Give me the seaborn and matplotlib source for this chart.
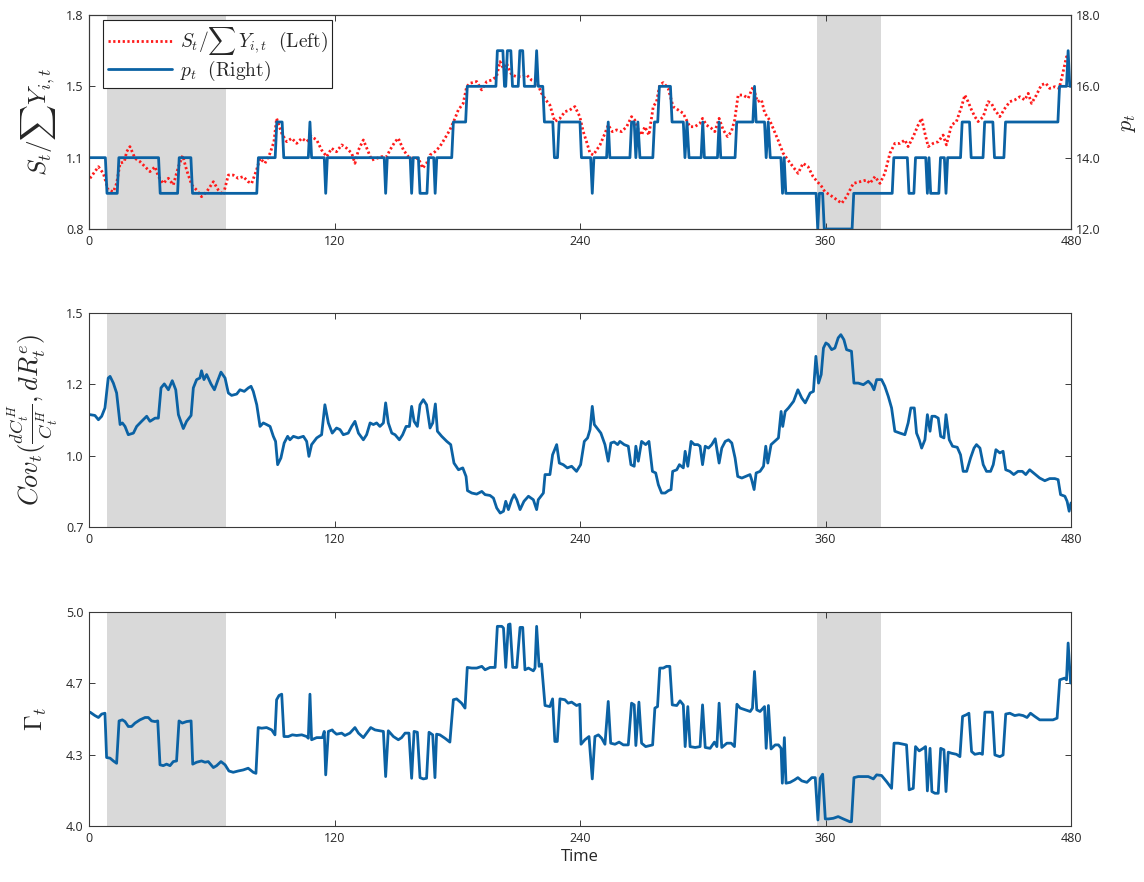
import matplotlib
matplotlib.use("Agg")
import matplotlib.pyplot as plt
import pandas as pd
import seaborn as sns

# ---------------- data ----------------
# S_t / sum Y_{i,t} (left axis, top panel): (time, value)
ratio_pts = [(0.5,1.037),(4.6,1.091),(7.0,1.060),(9.4,0.982),(11.9,0.974),(13.5,1.013),(15.2,1.107),(17.3,1.115),(18.4,1.161),(20.0,1.185),(22.5,1.130),(24.9,1.115),(27.4,1.091),(29.8,1.068),(32.3,1.091),(33.9,1.045),(36.3,1.013),(38.8,1.037),(41.2,1.006),(43.7,1.091),(45.8,1.143),(47.7,1.076),(50.2,1.006),(52.6,0.982),(55.0,0.951),(57.5,0.974),(60.8,1.021),(63.2,0.982),(65.6,0.959),(68.1,1.052),(70.5,1.052),(72.9,1.037),(75.4,1.045),(77.8,1.021),(79.5,1.013),(81.9,1.076),(83.6,1.130),(86.0,1.107),(88.5,1.154),(90.4,1.208),(91.7,1.317),(94.2,1.247),(96.6,1.208),(99.1,1.224),(101.5,1.200),(104.0,1.224),(106.4,1.208),(108.8,1.232),(111.3,1.216),(113.7,1.169),(116.2,1.138),(118.6,1.177),(121.0,1.161),(123.5,1.193),(126.0,1.177),(128.4,1.154),(130.0,1.107),(131.7,1.169),(134.1,1.216),(136.5,1.161),(138.2,1.122),(140.6,1.130),(143.0,1.138),(145.5,1.138),(147.1,1.169),(149.6,1.208),(151.2,1.224),(153.7,1.169),(156.1,1.138),(158.5,1.130),(161.0,1.130),(163.1,1.084),(165.0,1.107),(166.7,1.146),(169.1,1.161),(171.5,1.185),(174.0,1.224),(176.4,1.263),(178.9,1.317),(180.5,1.356),(182.9,1.387),(184.6,1.465),(186.2,1.481),(189.5,1.489),(191.9,1.450),(194.4,1.489),(196.8,1.496),(199.2,1.512),(200.9,1.582),(202.5,1.551),(204.1,1.574),(206.6,1.520),(209.0,1.512),(211.5,1.512),(213.9,1.520),(216.3,1.496),(218.8,1.489),(221.2,1.434),(223.3,1.403),(225.3,1.379),(227.7,1.302),(230.2,1.317),(232.6,1.348),(235.0,1.356),(237.5,1.372),(239.9,1.325),(241.6,1.255),(243.2,1.208),(244.9,1.154),(246.5,1.146),(248.1,1.169),(249.8,1.193),(252.2,1.247),(253.8,1.286),(255.8,1.255),(257.9,1.263),(260.3,1.255),(262.8,1.278),(265.2,1.325),(266.8,1.309),(268.5,1.263),(270.1,1.239),(271.7,1.278),(273.7,1.239),(275.8,1.372),(277.4,1.395),(279.0,1.473),(280.7,1.484),(283.1,1.457),(285.5,1.372),(288.0,1.356),(290.4,1.341),(292.1,1.309),(293.7,1.278),(296.1,1.278),(298.6,1.294),(299.9,1.317),(301.8,1.286),(304.3,1.270),(305.9,1.255),(308.0,1.317),(310.0,1.263),(312.1,1.232),(314.0,1.255),(315.6,1.309),(317.3,1.426),(319.7,1.426),(322.2,1.411),(324.6,1.465),(326.7,1.395),(328.7,1.403),(330.3,1.341),(332.7,1.309),(334.4,1.270),(336.8,1.216),(339.3,1.154),(341.7,1.122),(344.1,1.091),(346.6,1.060),(349.0,1.107),(351.5,1.091),(353.9,1.045),(356.0,1.021),(358.0,1.000),(359.7,0.974),(362.2,0.959),(364.6,0.943),(367.9,0.920),(370.3,0.951),(373.6,1.013),(376.8,1.021),(380.1,1.029),(381.7,1.013),(384.2,1.045),(386.6,1.013),(389.0,1.060),(391.5,1.154),(393.9,1.200),(396.4,1.200),(398.8,1.216),(400.4,1.185),(402.9,1.232),(405.3,1.286),(407.0,1.317),(408.6,1.247),(410.2,1.185),(412.6,1.200),(415.1,1.208),(417.5,1.239),(419.1,1.193),(421.6,1.286),(424.0,1.302),(426.5,1.372),(428.1,1.426),(429.7,1.395),(431.4,1.356),(433.0,1.325),(434.6,1.302),(437.1,1.325),(439.5,1.395),(441.1,1.387),(442.8,1.356),(445.2,1.325),(447.7,1.364),(450.1,1.395),(452.5,1.403),(455.0,1.418),(457.4,1.403),(459.1,1.434),(460.7,1.387),(463.1,1.426),(465.5,1.473),(467.7,1.481),(469.6,1.457),(472.1,1.465),(474.2,1.457),(475.8,1.520),(477.8,1.605),(479.1,1.598)]

# p_t (right axis, top panel): step vertices (time, level)
price_pts = [(0,14),(8,14),(8.8,13),(13.8,13),(14.6,14),(34,14),(34.8,13),(43.3,13),(44.1,14),(49.8,14),(50.6,13),(82,13),(82.8,14),(91,14),(91.8,15),(94.4,15),(95.2,14),(107.2,14),(108,15),(108.8,14),(115,14),(115.7,13),(116.5,14),(144.3,14),(145,13),(145.8,14),(157,14),(157.7,13),(158.5,14),(161,14),(161.8,13),(165.2,13),(166,14),(168.5,14),(169.2,13),(170,14),(177.3,14),(178.1,15),(184.1,15),(184.9,16),(198.9,16),(199.6,17),(202.3,17),(203.1,16),(203.7,16),(204.5,17),(206.2,17),(207,16),(209.8,16),(210.6,17),(212,17),(212.8,16),(218,16),(218.8,17),(219.6,16),(221.8,16),(222.6,15),(226.7,15),(227.5,14),(229,14),(229.8,15),(240,15),(240.7,14),(245.2,14),(246,13),(246.8,14),(253,14),(253.8,15),(254.6,14),(264.4,14),(265.2,15),(266.5,15),(267.3,14),(268.3,15),(269.3,14),(275.6,14),(276.4,15),(278,15),(278.8,16),(284.2,16),(285,15),(290.5,15),(291.3,14),(292.3,15),(293.3,14),(299.2,14),(300,15),(300.8,14),(307.2,14),(308,15),(308.8,14),(315.8,14),(316.6,15),(324.5,15),(325.3,16),(326.1,15),(330.2,15),(331,14),(332,15),(333,14),(338.2,14),(339,13),(339.8,14),(340.6,13),(355.4,13),(356.2,12),(357,13),(358.6,13),(359.4,12),(373,12),(373.8,13),(392.6,13),(393.4,14),(400,14),(400.8,13),(403.2,13),(404,14),(409,14),(409.8,13),(410.6,14),(411.4,13),(415.4,13),(416.2,14),(418.1,14),(418.9,13),(419.7,14),(426,14),(426.8,15),(430.4,15),(431.2,14),(437,14),(437.8,15),(441.8,15),(442.6,14),(447.2,14),(448,15),(473.6,15),(474.4,16),(477.8,16),(478.6,17),(479.4,16),(480,16)]

# Cov_t (middle panel)
cov_pts = [(0.5,1.120),(2.9,1.117),(4.6,1.101),(6.2,1.114),(7.8,1.145),(9.4,1.257),(10.3,1.263),(11.9,1.238),(13.5,1.201),(15.2,1.083),(16.3,1.089),(17.6,1.076),(19.2,1.045),(21.7,1.051),(23.3,1.076),(25.7,1.095),(28.2,1.114),(29.8,1.095),(32.3,1.107),(33.9,1.107),(35.2,1.220),(36.8,1.235),(38.8,1.213),(40.7,1.247),(42.4,1.213),(43.7,1.120),(46.1,1.068),(47.7,1.095),(49.9,1.117),(51.0,1.220),(52.6,1.251),(54.2,1.257),(55.0,1.284),(56.2,1.251),(57.5,1.270),(59.6,1.235),(61.3,1.213),(62.9,1.247),(64.5,1.279),(66.5,1.257),(68.1,1.201),(69.7,1.192),(72.2,1.197),(73.8,1.213),(75.9,1.207),(77.9,1.220),(79.2,1.226),(80.3,1.207),(82.0,1.157),(83.6,1.076),(85.2,1.089),(86.8,1.083),(88.5,1.076),(90.1,1.039),(91.2,1.020),(92.2,0.933),(93.8,0.958),(95.4,1.014),(97.1,1.039),(98.2,1.026),(99.9,1.039),(102.3,1.033),(104.8,1.039),(106.4,1.020),(107.5,0.964),(108.8,1.008),(111.3,1.033),(113.7,1.045),(115.3,1.157),(117.0,1.089),(118.9,1.051),(121.0,1.070),(122.7,1.064),(124.3,1.045),(126.7,1.051),(128.4,1.076),(130.0,1.095),(131.7,1.051),(134.1,1.026),(135.7,1.045),(137.4,1.089),(139.0,1.083),(140.6,1.089),(142.2,1.076),(143.9,1.089),(145.0,1.164),(146.3,1.089),(148.0,1.051),(149.6,1.045),(151.7,1.026),(153.3,1.045),(155.0,1.076),(156.6,1.076),(157.7,1.151),(158.9,1.095),(160.5,1.076),(161.8,1.157),(163.4,1.176),(165.0,1.157),(166.7,1.070),(168.0,1.089),(169.3,1.160),(170.3,1.058),(172.4,1.039),(174.9,1.020),(176.8,1.008),(178.4,0.939),(180.6,0.914),(182.7,0.921),(184.3,0.889),(185.0,0.836),(187.1,0.827),(189.5,0.823),(192.0,0.833),(193.6,0.821),(196.0,0.818),(197.7,0.808),(199.3,0.771),(201.0,0.752),(202.6,0.759),(203.7,0.796),(205.0,0.765),(206.6,0.802),(207.8,0.821),(209.1,0.802),(210.7,0.765),(212.6,0.796),(214.8,0.815),(217.2,0.802),(218.8,0.765),(219.6,0.802),(222.1,0.827),(222.9,0.896),(225.3,0.896),(226.6,0.970),(228.6,1.008),(229.9,0.939),(231.8,0.933),(233.8,0.921),(235.9,0.927),(238.3,0.908),(240.3,0.933),(242.1,1.020),(243.7,1.033),(244.9,1.064),(246.0,1.151),(247.0,1.083),(248.9,1.064),(250.2,1.051),(252.2,1.008),(253.8,0.946),(255.1,1.014),(256.7,1.018),(258.4,1.008),(259.5,1.020),(261.6,1.008),(263.6,1.002),(264.9,0.933),(266.5,0.927),(267.3,1.002),(268.5,0.946),(270.1,1.020),(272.1,1.008),(273.7,1.020),(275.4,0.908),(277.0,0.902),(278.3,0.858),(279.9,0.827),(281.6,0.827),(283.2,0.836),(284.5,0.840),(285.3,0.908),(287.3,0.914),(288.6,0.933),(290.5,0.921),(291.4,0.983),(292.7,0.927),(294.3,1.020),(295.9,1.008),(297.6,1.008),(298.7,1.002),(299.9,0.933),(301.2,1.002),(302.8,0.995),(304.4,1.008),(306.1,1.030),(308.0,0.939),(309.3,0.995),(311.0,1.020),(312.6,1.026),(314.2,1.014),(315.8,0.958),(317.1,0.889),(319.1,0.883),(321.0,0.889),(323.1,0.896),(323.9,0.877),(325.1,0.840),(326.1,0.902),(328.0,0.908),(329.7,0.927),(330.8,1.002),(331.8,0.939),(333.4,1.008),(335.1,1.020),(337.0,1.033),(338.3,1.132),(339.1,1.076),(340.3,1.132),(341.9,1.145),(344.4,1.170),(346.5,1.213),(348.4,1.182),(350.1,1.164),(352.5,1.201),(354.1,1.207),(355.3,1.338),(356.6,1.238),(357.9,1.270),(359.0,1.369),(360.2,1.388),(361.4,1.382),(363.0,1.363),(364.6,1.369),(366.2,1.407),(367.5,1.419),(369.0,1.400),(370.3,1.363),(372.7,1.357),(373.9,1.238),(376.0,1.238),(378.5,1.232),(380.9,1.245),(382.5,1.232),(383.7,1.213),(385.0,1.251),(387.4,1.251),(389.0,1.226),(390.7,1.188),(392.3,1.145),(393.9,1.058),(396.4,1.051),(398.8,1.045),(400.4,1.089),(401.7,1.145),(403.4,1.145),(404.5,1.051),(405.8,1.026),(407.0,0.995),(408.6,1.026),(409.8,1.120),(411.1,1.058),(412.0,1.114),(413.5,1.114),(415.1,1.107),(416.3,1.039),(417.9,1.033),(418.9,1.120),(420.5,1.026),(422.1,1.002),(424.4,0.998),(426.0,0.970),(427.3,0.908),(429.0,0.908),(430.9,0.958),(432.6,0.995),(433.8,1.008),(435.5,0.995),(437.1,0.933),(438.7,0.908),(440.7,0.908),(442.0,0.933),(443.3,0.989),(445.2,0.977),(446.8,0.983),(448.1,0.914),(450.1,0.908),(452.0,0.896),(454.1,0.908),(456.2,0.908),(457.9,0.896),(459.8,0.914),(462.3,0.898),(464.7,0.883),(467.2,0.873),(469.6,0.881),(472.1,0.881),(473.7,0.877),(474.9,0.821),(477.0,0.815),(478.1,0.796),(479.1,0.759),(480.0,0.790)]

# Gamma_t (bottom panel)
gamma_pts = [(0.5,4.532),(2.9,4.516),(4.6,4.507),(6.2,4.523),(7.8,4.527),(8.6,4.320),(10.3,4.317),(11.9,4.304),(13.5,4.293),(14.7,4.491),(16.3,4.496),(17.6,4.488),(19.2,4.465),(20.8,4.465),(22.5,4.481),(24.9,4.496),(27.4,4.507),(29.0,4.507),(30.6,4.491),(32.3,4.488),(33.6,4.491),(34.7,4.286),(36.3,4.282),(37.9,4.289),(39.6,4.282),(41.2,4.301),(42.8,4.304),(44.0,4.491),(45.6,4.481),(47.7,4.488),(49.9,4.491),(50.7,4.289),(52.6,4.298),(55.0,4.304),(56.7,4.298),(58.3,4.301),(60.8,4.273),(62.4,4.282),(64.5,4.301),(66.5,4.286),(68.4,4.257),(70.5,4.251),(72.9,4.257),(75.4,4.262),(77.8,4.270),(80.3,4.251),(81.6,4.246),(82.7,4.460),(84.4,4.457),(86.8,4.460),(89.3,4.449),(90.9,4.426),(91.7,4.590),(92.9,4.610),(94.2,4.616),(95.3,4.418),(97.4,4.418),(99.4,4.426),(101.5,4.423),(104.0,4.426),(106.4,4.418),(107.2,4.410),(108.0,4.616),(108.8,4.403),(111.3,4.413),(114.1,4.413),(115.0,4.442),(115.7,4.239),(117.0,4.442),(118.9,4.449),(119.4,4.442),(121.0,4.429),(123.5,4.434),(125.1,4.423),(127.5,4.434),(130.0,4.460),(131.7,4.434),(134.1,4.413),(135.7,4.434),(137.7,4.460),(139.8,4.449),(142.2,4.445),(143.9,4.442),(145.0,4.231),(146.3,4.445),(148.8,4.418),(151.2,4.403),(152.8,4.413),(154.5,4.434),(156.4,4.434),(157.7,4.223),(158.9,4.442),(160.5,4.438),(161.8,4.226),(163.4,4.220),(165.0,4.223),(166.2,4.438),(168.0,4.426),(169.1,4.226),(169.9,4.429),(171.5,4.426),(174.0,4.410),(176.4,4.392),(178.1,4.590),(179.7,4.594),(182.1,4.574),(183.8,4.551),(184.9,4.741),(187.1,4.738),(189.5,4.738),(192.0,4.746),(193.6,4.730),(196.0,4.741),(198.5,4.741),(199.6,4.933),(201.8,4.933),(202.6,4.925),(203.7,4.741),(205.0,4.941),(205.8,4.944),(207.1,4.741),(209.1,4.741),(210.7,4.928),(212.0,4.928),(213.1,4.730),(214.8,4.738),(217.2,4.725),(218.0,4.738),(218.8,4.933),(220.0,4.746),(221.2,4.757),(222.9,4.563),(225.3,4.558),(226.6,4.594),(227.7,4.395),(228.9,4.395),(230.2,4.594),(232.6,4.590),(234.2,4.574),(235.9,4.579),(238.3,4.563),(239.9,4.569),(240.5,4.382),(242.4,4.403),(244.4,4.418),(246.0,4.220),(247.3,4.418),(249.0,4.426),(250.6,4.410),(252.2,4.382),(253.8,4.582),(255.0,4.387),(257.1,4.382),(259.1,4.392),(261.2,4.379),(263.6,4.379),(265.2,4.574),(266.5,4.566),(267.3,4.376),(268.8,4.579),(270.1,4.387),(272.1,4.371),(274.2,4.376),(275.5,4.379),(276.6,4.551),(277.9,4.558),(279.0,4.738),(280.7,4.738),(282.3,4.746),(283.9,4.746),(285.1,4.566),(287.3,4.563),(288.9,4.585),(290.5,4.566),(291.4,4.371),(292.7,4.558),(293.8,4.371),(296.3,4.367),(298.7,4.371),(299.9,4.566),(301.2,4.367),(303.6,4.363),(305.7,4.392),(306.9,4.371),(308.0,4.574),(309.3,4.367),(311.8,4.387),(313.9,4.387),(315.5,4.371),(316.7,4.569),(318.3,4.551),(320.7,4.543),(323.2,4.535),(324.3,4.551),(325.3,4.722),(326.4,4.543),(328.0,4.535),(330.2,4.558),(331.0,4.363),(332.1,4.563),(333.4,4.360),(335.4,4.379),(337.0,4.379),(338.3,4.363),(338.9,4.200),(339.9,4.413),(340.7,4.200),(342.7,4.204),(344.8,4.215),(346.5,4.226),(348.4,4.211),(350.9,4.204),(353.3,4.226),(355.0,4.226),(356.3,4.028),(357.4,4.223),(358.6,4.242),(359.9,4.033),(361.4,4.033),(363.8,4.036),(366.2,4.044),(368.7,4.033),(371.9,4.020),(372.7,4.020),(373.9,4.226),(376.0,4.231),(378.5,4.231),(380.9,4.231),(383.4,4.220),(385.0,4.239),(387.4,4.236),(389.9,4.207),(392.3,4.176),(393.5,4.387),(395.6,4.387),(398.0,4.382),(399.6,4.379),(400.9,4.169),(402.9,4.176),(404.0,4.371),(405.8,4.351),(407.8,4.363),(408.9,4.371),(409.8,4.164),(411.1,4.363),(412.0,4.161),(413.5,4.153),(415.1,4.153),(416.3,4.363),(417.9,4.356),(418.9,4.161),(420.0,4.345),(421.6,4.340),(424.0,4.335),(425.7,4.324),(427.0,4.512),(428.9,4.520),(430.1,4.527),(431.4,4.348),(433.0,4.335),(435.5,4.340),(436.7,4.335),(437.9,4.532),(439.5,4.532),(441.6,4.532),(442.8,4.332),(445.2,4.324),(446.8,4.332),(448.1,4.523),(450.1,4.527),(452.5,4.516),(454.6,4.520),(456.6,4.516),(458.5,4.507),(460.2,4.527),(462.3,4.512),(464.7,4.496),(468.0,4.496),(471.2,4.496),(473.2,4.504),(474.5,4.683),(476.9,4.691),(477.8,4.683),(478.6,4.855),(479.8,4.668)]

# shaded periods (time)
shade_periods = [(9, 67), (356, 387)]

x_ticks = [0, 120, 240, 360, 480]
ratio_ticks = [0.8, 1.1333, 1.4667, 1.8]
ratio_labels = ["0.8", "1.1", "1.5", "1.8"]
price_ticks = [12, 14, 16, 18]
price_labels = ["12.0", "14.0", "16.0", "18.0"]
cov_ticks = [0.7, 0.9667, 1.2333, 1.5]
cov_labels = ["0.7", "1.0", "1.2", "1.5"]
gamma_ticks = [4.0, 4.3333, 4.6667, 5.0]
gamma_labels = ["4.0", "4.3", "4.7", "5.0"]

# ---------------- style ----------------
sns.set_style("white")
plt.rcParams["font.family"] = ["Open Sans", "DejaVu Sans"]
plt.rcParams["mathtext.fontset"] = "cm"

BLUE = "#0b62a4"
RED = "#ff1a1a"
SHADE = "#d9d9d9"
FRAME = "#3a3a3a"
TXT = "#262626"
TICK_FS = 9

df_ratio = pd.DataFrame(ratio_pts, columns=["t", "v"])
df_price = pd.DataFrame(price_pts, columns=["t", "v"])
df_cov = pd.DataFrame(cov_pts, columns=["t", "v"])
df_gamma = pd.DataFrame(gamma_pts, columns=["t", "v"])

fig = plt.figure(figsize=(11.44, 8.82), dpi=100)
L, W, H = 89 / 1144, 982 / 1144, 214 / 882
ax1 = fig.add_axes([L, 1 - 229 / 882, W, H])
ax3 = fig.add_axes([L, 1 - 527 / 882, W, H])
ax4 = fig.add_axes([L, 1 - 826 / 882, W, H])


def style_axes(ax, right=True):
    for s in ax.spines.values():
        s.set_visible(True)
        s.set_color(FRAME)
        s.set_linewidth(0.8)
    ax.tick_params(axis="both", direction="in", length=4, width=0.7, colors=FRAME,
                   labelcolor=TXT, labelsize=TICK_FS, bottom=True, top=True,
                   left=True, right=right, pad=4)
    ax.set_xlim(0, 480)
    ax.set_xticks(x_ticks)
    ax.set_xticklabels([str(x) for x in x_ticks])
    for (a, b) in shade_periods:
        ax.axvspan(a, b, color=SHADE, lw=0, zorder=0)


# ---- top panel ----
style_axes(ax1, right=False)
sns.lineplot(data=df_ratio, x="t", y="v", ax=ax1, color=RED, lw=2.0,
             linestyle=(0, (0.8, 0.9)), sort=False, estimator=None, legend=False)
ax1.set_ylim(0.8, 1.8)
ax1.set_yticks(ratio_ticks)
ax1.set_yticklabels(ratio_labels)
ax1.set_ylabel(r"$S_t/\sum Y_{i,t}$", fontsize=18, labelpad=6, color=TXT)
ax1.set_xlabel("")

ax2 = ax1.twinx()
sns.lineplot(data=df_price, x="t", y="v", ax=ax2, color=BLUE, lw=2.0,
             sort=False, estimator=None, legend=False)
ax2.set_ylim(12, 18)
ax2.set_yticks(price_ticks)
ax2.set_yticklabels(price_labels)
ax2.tick_params(axis="y", direction="in", length=4, width=0.7, colors=FRAME,
                labelcolor=TXT, labelsize=TICK_FS, right=True, left=False)
for s in ax2.spines.values():
    s.set_color(FRAME)
    s.set_linewidth(0.8)
ax2.set_ylabel(r"$p_t$", fontsize=16, labelpad=12, color=TXT)
ax2.set_xlim(0, 480)

handles = ax1.get_lines()[:1] + ax2.get_lines()[:1]
labels = [r"$S_t/\sum\, Y_{i,t}\ \ \mathrm{(Left)}$", r"$p_t\ \ \mathrm{(Right)}$"]
leg = ax2.legend(handles, labels, loc="upper left", bbox_to_anchor=(0.014, 0.975),
                 fontsize=14, frameon=True, fancybox=False, framealpha=1,
                 edgecolor="#222222", handlelength=3.3, handletextpad=0.4,
                 borderpad=0.25, labelspacing=0.1, borderaxespad=0)
leg.get_frame().set_linewidth(0.8)

# ---- middle panel ----
style_axes(ax3)
sns.lineplot(data=df_cov, x="t", y="v", ax=ax3, color=BLUE, lw=2.0,
             sort=False, estimator=None)
ax3.set_ylim(0.7, 1.5)
ax3.set_yticks(cov_ticks)
ax3.set_yticklabels(cov_labels)
ax3.set_ylabel(r"$Cov_t(\frac{dC^H_t}{C^H_t}, dR^e_t)$", fontsize=19, labelpad=4, color=TXT)
ax3.set_xlabel("")

# ---- bottom panel ----
style_axes(ax4)
sns.lineplot(data=df_gamma, x="t", y="v", ax=ax4, color=BLUE, lw=2.0,
             sort=False, estimator=None)
ax4.set_ylim(4.0, 5.0)
ax4.set_yticks(gamma_ticks)
ax4.set_yticklabels(gamma_labels)
ax4.set_ylabel(r"$\Gamma_t$", fontsize=18, labelpad=12, color=TXT)
ax4.set_xlabel("Time", fontsize=12, color=TXT, labelpad=3)

fig.savefig("out.png", dpi=100)
